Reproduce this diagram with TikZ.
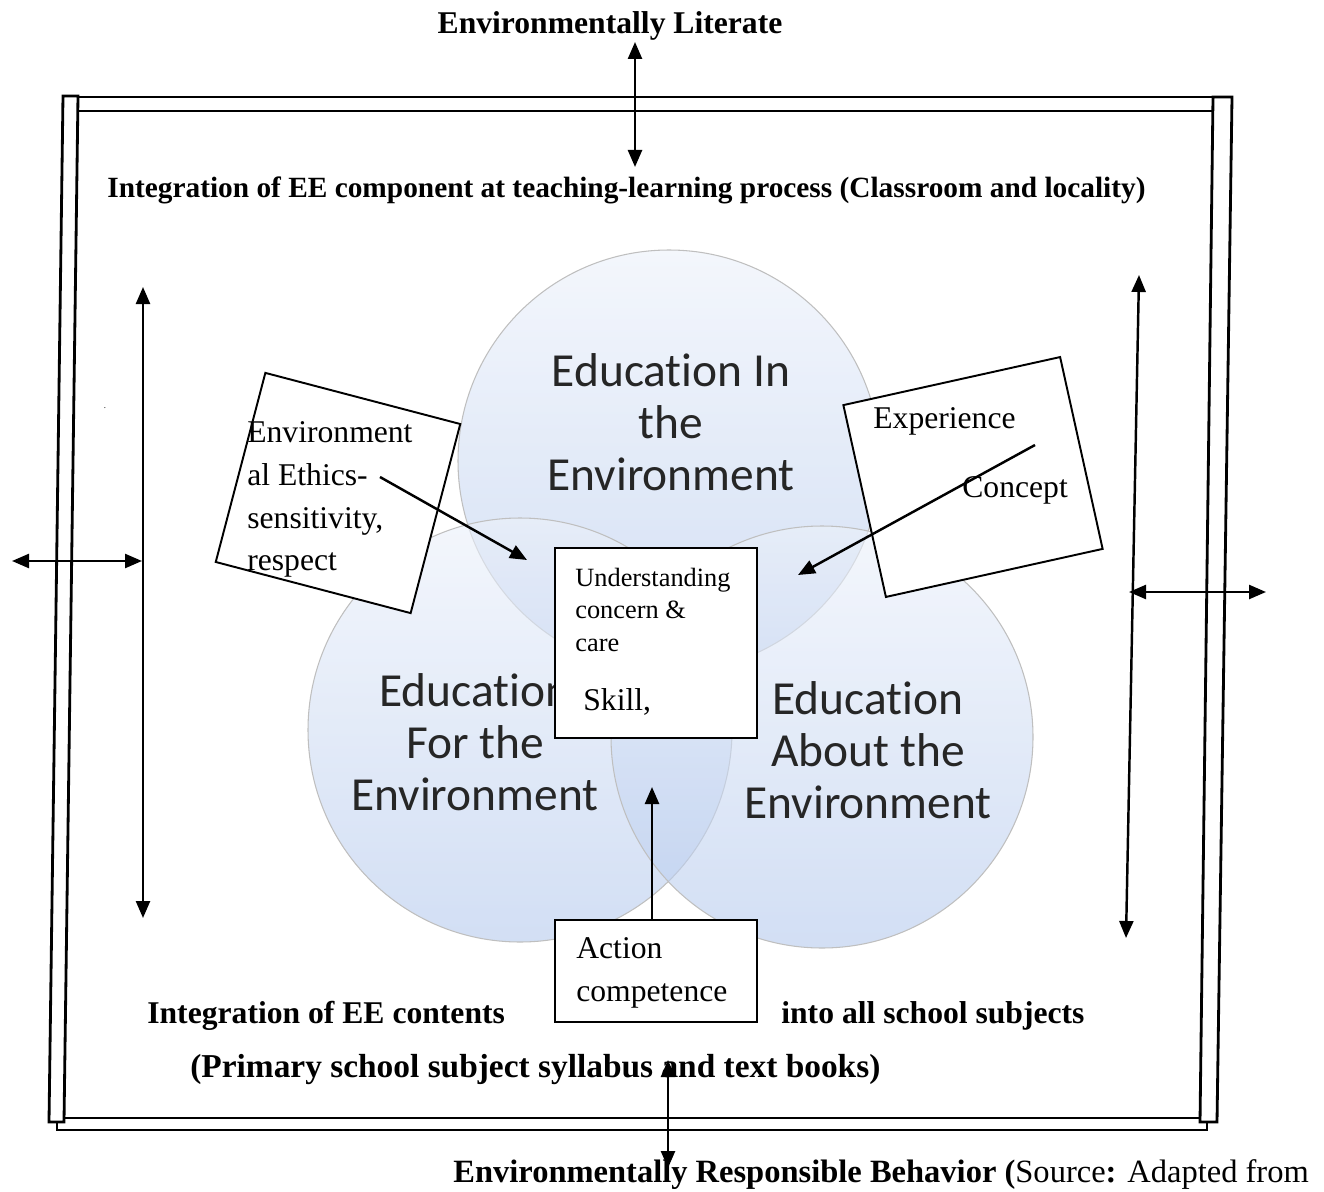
\documentclass[tikz,border=0pt]{standalone}
\usepackage{fontspec}
\setmainfont{Liberation Serif}
\newfontfamily\calibrifont[Ligatures=NoCommon]{Carlito}
\usetikzlibrary{arrows.meta}

\tikzset{
	bar/.style={line width=1.6pt},
	tip/.tip={Triangle[length=3.4mm,width=2.8mm]},
	twoway/.style={line width=1.4pt, tip-tip},
	oneway/.style={line width=1.4pt, -tip},
	ring/.style={draw=black!25, line width=0.6pt, top color={rgb,255:red,236;green,241;blue,250}, bottom color={rgb,255:red,180;green,201;blue,237}, fill opacity=0.6},
	heading/.style={font=\fontsize{18}{22}\selectfont\bfseries, inner sep=0pt},
	bubble/.style={font=\calibrifont\fontsize{27}{29.6}\selectfont, text=black!85, align=center, inner sep=0pt},
	box/.style={draw, line width=1.1pt, fill=white, inner sep=0pt},
	boxtext/.style={font=\fontsize{18}{24.4}\selectfont, align=left, inner sep=0pt},
	smalltext/.style={font=\fontsize{15}{18.4}\selectfont, align=left, inner sep=0pt}
}

\begin{document}
\begin{tikzpicture}[x=0.2mm, y=-0.2mm]

	\useasboundingbox (0,0) rectangle (1324,1191);

	% frame
	\draw[bar] (63,96) -- (78,96) -- (64,1122) -- (49,1122) -- cycle;
	\draw[bar] (1213,97) -- (1232,97) -- (1217,1122) -- (1200,1122) -- cycle;
	\draw[bar] (78,97) -- (1213,97);
	\draw[bar] (78,111) -- (1213,111);
	\draw[bar] (64,1118) -- (1200,1118);
	\draw[bar] (57,1122) -- (57,1130) -- (1207,1130) -- (1207,1122);

	% circles
	\path[ring] (669,461) circle (211);
	\path[ring] (520,730) circle (212);
	\path[ring] (822,737) circle (211);

	\node[bubble] (inenv) at (671,422) {Education In\\the\\Environment};
	\node[bubble] (forenv) at (475,742) {Education\\For the\\Environment};
	\node[bubble] (aboutenv) at (868,750) {Education\\About the\\Environment};

	% boxes
	\node[box, rotate=-14.7, minimum width=40.3mm, minimum height=39.1mm] (ethicsbox) at (338,493) {};
	\node[box, rotate=12.5, minimum width=44.4mm, minimum height=39.3mm] (expbox) at (973,477) {};
	\node[box, minimum width=40.4mm, minimum height=38mm] (corebox) at (656,643) {};
	\node[box, minimum width=40.4mm, minimum height=20.4mm] (actionbox) at (656,971) {};

	\node[boxtext, anchor=north west] (ethics) at (247,421) {Environment\\al Ethics-\\sensitivity,\\respect};
	\node[boxtext, anchor=base west] (experience) at (873,428) {Experience};
	\node[boxtext, anchor=base west] (concept) at (962,497) {Concept};
	\node[smalltext, anchor=north west] (understanding) at (575,568) {Understanding\\concern \&\\care};
	\node[boxtext, anchor=base west] (skill) at (583,710) {Skill,};
	\node[boxtext, anchor=north west] (action) at (576,937) {Action\\competence};

	% inner arrows
	\coordinate (ethicsTail) at (380,477);
	\coordinate (ethicsHead) at (527,560);
	\coordinate (conceptTail) at (1035,445);
	\coordinate (conceptHead) at (798,575);
	\coordinate (actionHead) at (652,787);
	\draw[oneway] (ethicsTail) -- (ethicsHead);
	\draw[oneway] (conceptTail) -- (conceptHead);
	\draw[oneway] (actionbox.north -| actionHead) -- (actionHead);

	% headings
	\node[heading, anchor=base] (literate) at (610,34) {Environmentally Literate};
	\node[heading, font=\fontsize{16.7}{20}\selectfont\bfseries, anchor=base west] (classroom) at (107,197) {Integration of EE component at teaching-learning process (Classroom and locality)};
	\node[heading, anchor=base west] (contents) at (147,1023) {Integration of EE contents};
	\node[heading, anchor=base west] (subjects) at (781,1023) {into all school subjects};
	\node[heading, font=\fontsize{19}{22}\selectfont\bfseries, anchor=base west] (syllabus) at (190,1077) {(Primary school subject syllabus and text books)};
	\node[heading, font=\fontsize{18.5}{22}\selectfont\bfseries, anchor=base west] (behavior) at (453,1182) {Environmentally Responsible Behavior (\textmd{Source}:\textmd{ Adapted from}};
	\node[font=\tiny, inner sep=0pt] (dot) at (105,408) {.};

	% outer arrows
	\coordinate (topA) at (635,42);
	\coordinate (topB) at (635,167);
	\coordinate (botA) at (668,1060);
	\coordinate (botB) at (668,1168);
	\coordinate (leftA) at (143,287);
	\coordinate (leftB) at (143,918);
	\coordinate (leftC) at (12,561);
	\coordinate (leftD) at (142,561);
	\coordinate (rightA) at (1139,275);
	\coordinate (rightB) at (1126,938);
	\coordinate (rightC) at (1129,592);
	\coordinate (rightD) at (1266,592);
	\draw[twoway] (topA) -- (topB);
	\draw[twoway] (botA) -- (botB);
	\draw[twoway] (leftA) -- (leftB);
	\draw[twoway] (leftC) -- (leftD);
	\draw[twoway] (rightA) -- (rightB);
	\draw[twoway] (rightC) -- (rightD);

\end{tikzpicture}
\end{document}
